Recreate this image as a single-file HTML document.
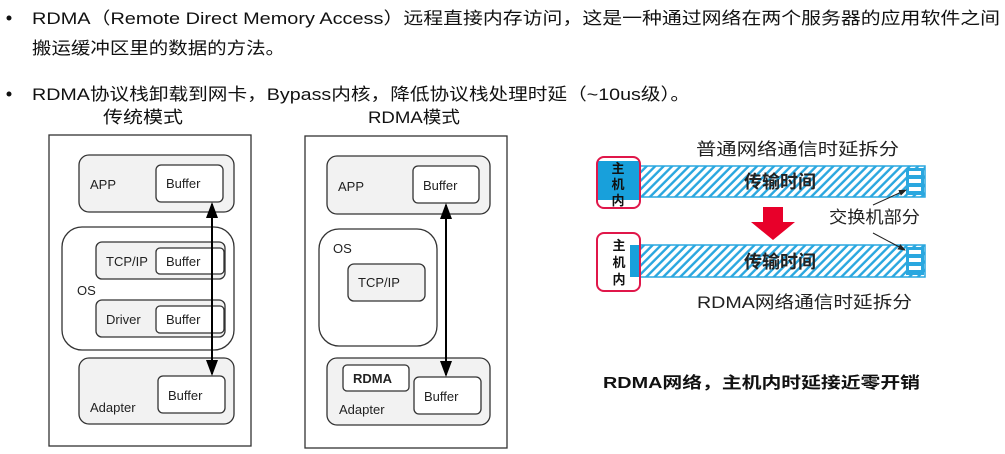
<!DOCTYPE html>
<html><head><meta charset="utf-8"><style>
body{margin:0;background:#fff;}
svg{display:block;font-family:"Liberation Sans","Noto Sans CJK SC",sans-serif;}
</style></head><body>
<svg width="1005" height="454" viewBox="0 0 1005 454" xmlns="http://www.w3.org/2000/svg">
<defs>
<pattern id="h" width="6" height="6" patternUnits="userSpaceOnUse" patternTransform="rotate(45)">
<rect width="6" height="6" fill="#2aa7df"/><rect width="3.6" height="6" fill="#fff"/>
</pattern>
<marker id="a" markerWidth="8" markerHeight="8" refX="7" refY="4" orient="auto-start-reverse"><path d="M0,1 L8,4 L0,7z" fill="#000"/></marker>
<marker id="b" markerWidth="8" markerHeight="8" refX="7" refY="4" orient="auto"><path d="M0,1 L8,4 L0,7z" fill="#222"/></marker>
</defs>
<g font-size="17" fill="#111">
<circle cx="9" cy="18" r="2.5"/><circle cx="9" cy="94" r="2.5"/>
<text x="32" y="24" textLength="968" lengthAdjust="spacingAndGlyphs">RDMA（Remote Direct Memory Access）远程直接内存访问，这是一种通过网络在两个服务器的应用软件之间</text>
<text x="32" y="54" textLength="253" lengthAdjust="spacingAndGlyphs">搬运缓冲区里的数据的方法。</text>
<text x="32" y="100" textLength="658" lengthAdjust="spacingAndGlyphs">RDMA协议栈卸载到网卡，Bypass内核，降低协议栈处理时延（~10us级）。</text>
<text x="103" y="123" textLength="80" lengthAdjust="spacingAndGlyphs">传统模式</text>
<text x="368" y="123" textLength="92" lengthAdjust="spacingAndGlyphs">RDMA模式</text>
</g>
<g stroke="#333" stroke-width="1.3" font-size="12" fill="#222">
<rect x="49" y="135" width="202" height="311" fill="#fff"/>
<rect x="79" y="155" width="155" height="57" rx="10" fill="#f2f2f2"/>
<rect x="156" y="165" width="67" height="37" rx="5" fill="#fff"/>
<rect x="62" y="227" width="172" height="123" rx="20" fill="#fff"/>
<rect x="96" y="242" width="129" height="37" rx="6" fill="#f2f2f2"/>
<rect x="156" y="248" width="68" height="26" rx="4" fill="#fff"/>
<rect x="96" y="300" width="129" height="37" rx="6" fill="#f2f2f2"/>
<rect x="156" y="306" width="68" height="27" rx="4" fill="#fff"/>
<rect x="79" y="358" width="155" height="66" rx="10" fill="#f2f2f2"/>
<rect x="158" y="376" width="67" height="37" rx="5" fill="#fff"/>
<line x1="212" y1="204" x2="212" y2="374" stroke="#000" stroke-width="2" marker-start="url(#a)" marker-end="url(#a)"/>
<rect x="305" y="136" width="202" height="312" fill="#fff"/>
<rect x="327" y="156" width="163" height="58" rx="10" fill="#f2f2f2"/>
<rect x="413" y="166" width="66" height="37" rx="5" fill="#fff"/>
<rect x="319" y="229" width="118" height="117" rx="20" fill="#fff"/>
<rect x="348" y="264" width="77" height="37" rx="6" fill="#f2f2f2"/>
<rect x="327" y="358" width="163" height="67" rx="10" fill="#f2f2f2"/>
<rect x="343" y="365" width="66" height="26" rx="4" fill="#fff"/>
<rect x="414" y="377" width="67" height="37" rx="5" fill="#fff"/>
<line x1="446" y1="205" x2="446" y2="375" stroke="#000" stroke-width="2" marker-start="url(#a)" marker-end="url(#a)"/>
</g>
<g font-size="13" fill="#222">
<text x="90" y="189">APP</text><text x="166" y="188">Buffer</text>
<text x="106" y="266">TCP/IP</text><text x="166" y="266">Buffer</text>
<text x="77" y="295">OS</text>
<text x="106" y="324">Driver</text><text x="166" y="324">Buffer</text>
<text x="90" y="412">Adapter</text><text x="168" y="400">Buffer</text>
<text x="338" y="191">APP</text><text x="423" y="190">Buffer</text>
<text x="333" y="253">OS</text><text x="358" y="287">TCP/IP</text>
<text x="353" y="383" font-weight="bold">RDMA</text>
<text x="339" y="414">Adapter</text><text x="424" y="401">Buffer</text>
</g>
<g font-size="17" fill="#222">
<text x="696" y="155" textLength="203" lengthAdjust="spacingAndGlyphs">普通网络通信时延拆分</text>
<text x="697" y="308" textLength="215" lengthAdjust="spacingAndGlyphs">RDMA网络通信时延拆分</text>
<text x="829" y="223" textLength="91" lengthAdjust="spacingAndGlyphs">交换机部分</text>
</g>
<rect x="640" y="166" width="285" height="31" fill="url(#h)"/>
<rect x="640" y="166" width="285" height="31" fill="none" stroke="#2aa7df" stroke-width="1.5"/>
<rect x="906" y="168" width="18" height="27" fill="#2aa7df"/>
<g fill="#fff"><rect x="909" y="171" width="12" height="4"/><rect x="909" y="179" width="12" height="4"/><rect x="909" y="187" width="12" height="4"/></g>
<rect x="640" y="245" width="285" height="32" fill="url(#h)"/>
<rect x="640" y="245" width="285" height="32" fill="none" stroke="#2aa7df" stroke-width="1.5"/>
<rect x="906" y="247" width="18" height="28" fill="#2aa7df"/>
<g fill="#fff"><rect x="909" y="250" width="12" height="4"/><rect x="909" y="258" width="12" height="4"/><rect x="909" y="266" width="12" height="4"/></g>
<rect x="598" y="161" width="42" height="39" fill="#18a0db"/>
<rect x="630" y="245" width="9" height="32" fill="#18a0db"/>
<rect x="597" y="157" width="43" height="51" rx="7" fill="none" stroke="#e0174a" stroke-width="2"/>
<rect x="597" y="233" width="43" height="58" rx="7" fill="none" stroke="#e0174a" stroke-width="2"/>
<g font-size="13" font-weight="bold" fill="#111" text-anchor="middle">
<text x="618" y="173">主</text><text x="618" y="189">机</text><text x="618" y="205">内</text>
<text x="619" y="250">主</text><text x="619" y="267">机</text><text x="619" y="284">内</text>
</g>
<g font-size="18" font-weight="bold" fill="#222" text-anchor="middle">
<text x="780" y="188">传输时间</text><text x="780" y="268">传输时间</text>
</g>
<path d="M763,207 H783 V222 H795 L773,240 L751,222 H763Z" fill="#e8002a"/>
<line x1="873" y1="205" x2="906" y2="190" stroke="#222" marker-end="url(#b)"/>
<line x1="873" y1="233" x2="905" y2="250" stroke="#222" marker-end="url(#b)"/>
<text x="603" y="388" font-size="16" font-weight="bold" fill="#111" textLength="317" lengthAdjust="spacingAndGlyphs">RDMA网络，主机内时延接近零开销</text>
</svg>
</body></html>
